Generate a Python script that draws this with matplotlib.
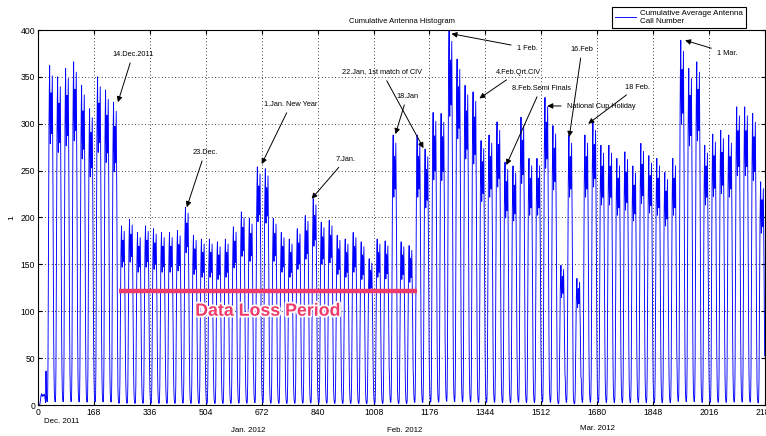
import matplotlib
matplotlib.use('Agg')
import matplotlib.pyplot as plt
import matplotlib.patheffects as pe
import numpy as np

plt.rcParams['font.family'] = ['Liberation Sans', 'DejaVu Sans']

# daily peak of the call number, one value per day (day 0 = start of Dec. 2011 data)
daily_peak = [12, 362, 350, 359, 366, 341, 316, 350, 336, 323,
              191, 198, 184, 191, 188, 184, 184, 186, 211, 181,
              177, 177, 174, 177, 190, 206, 199, 254, 252, 199,
              184, 177, 188, 202, 220, 195, 197, 181, 177, 184,
              174, 156, 177, 175, 288, 174, 170, 288, 273, 312,
              311, 400, 369, 341, 334, 282, 288, 302, 259, 255,
              307, 263, 263, 328, 298, 149, 288, 135, 288, 302,
              277, 277, 263, 270, 255, 279, 266, 263, 248, 263,
              389, 359, 366, 277, 289, 293, 288, 318, 318, 311, 238]

# typical shape of one day, as share of the daily peak (hour 0..23)
hour_profile = [0.10, 0.04, 0.02, 0.01, 0.01, 0.03, 0.12, 0.35, 0.62, 0.82,
                0.93, 1.00, 0.84, 0.77, 0.86, 0.92, 0.88, 0.80, 0.90, 0.97,
                0.82, 0.63, 0.40, 0.22]

x_ticks = [0, 168, 336, 504, 672, 840, 1008, 1176, 1344, 1512, 1680, 1848, 2016, 2184]
months = ['Dec. 2011', 'Jan. 2012', 'Feb. 2012', 'Mar. 2012']

# annotation label, arrow tip (hour, value)
notes = [('14.Dec.2011', 240, 323),
         ('23.Dec.', 447, 211),
         ('1.Jan. New Year', 672, 257),
         ('7.Jan.', 822, 220),
         ('22.Jan, 1st match of CIV', 1158, 274),
         ('18.Jan', 1074, 289),
         ('1 Feb.', 1242, 396),
         ('4.Feb.Qrt.CIV', 1326, 327),
         ('8.Feb.Semi Finals', 1407, 256),
         ('National Cup Holiday', 1530, 319),
         ('16.Feb', 1596, 286),
         ('18 Feb.', 1653, 300),
         ('1 Mar.', 1944, 389)]

# text anchor positions in image pixels (x, y from top)
note_pos = [(133, 54), (205, 152), (291, 104), (346, 159), (382, 72), (407, 96),
            (527, 48), (518, 72), (541, 88), (601, 106), (582, 49), (637, 87), (727, 53)]

W, H = 766, 436
values = np.outer(daily_peak, hour_profile).ravel()
hours = np.arange(len(values))

fig = plt.figure(figsize=(W / 100, H / 100), dpi=100)
ax = fig.add_axes([38 / W, 1 - 405 / H, (765 - 38) / W, 375 / H])

line, = ax.plot(hours, values, color='#0000ff', lw=0.65,
                label='Cumulative Average Antenna\nCall Number')

ax.set_xlim(0, 2184)
ax.set_ylim(0, 400)
ax.set_xticks(x_ticks)
ax.set_yticks(range(0, 401, 50))
ax.tick_params(direction='in', labelsize=6.2, top=True, right=True, length=3, pad=2)
ax.grid(True, color='k', ls=(0, (1, 3)), lw=0.6)
for s in ax.spines.values():
    s.set_linewidth(0.8)

ax.set_title('Cumulative Antenna Histogram', fontsize=5.5, pad=5)
ax.set_ylabel('1', fontsize=6, labelpad=4)

month_pos = [(62, 421), (248, 430), (405, 430), (597, 428)]
for m, (px, py) in zip(months, month_pos):
    fig.text(px / W, 1 - py / H, m, fontsize=5.7, ha='center', va='center')

# data loss marker
ax.hlines(122, 243, 1140, color='#ef3b6c', lw=3.2)
ax.text(690, 100, 'Data Loss Period', color='#ef3b6c', fontsize=12.8, fontweight='bold',
        ha='center', va='center',
        path_effects=[pe.withStroke(linewidth=2.5, foreground='white')])

for (label, hx, hy), (px, py) in zip(notes, note_pos):
    ax.annotate(label, xy=(hx, hy), xytext=(px, H - py), textcoords='figure pixels',
                fontsize=5.3, ha='center', va='center',
                arrowprops=dict(arrowstyle='-|>', color='k', lw=0.7,
                                mutation_scale=8, shrinkA=2, shrinkB=0))

leg = ax.legend(loc='upper right', bbox_to_anchor=(750 / W, 1 - 3 / H),
                bbox_transform=fig.transFigure, fontsize=5.8, fancybox=False,
                edgecolor='k', framealpha=1, handlelength=2.6, borderpad=0.35,
                handletextpad=0.5)
leg.get_frame().set_linewidth(0.8)

fig.savefig('out.png', dpi=100)
